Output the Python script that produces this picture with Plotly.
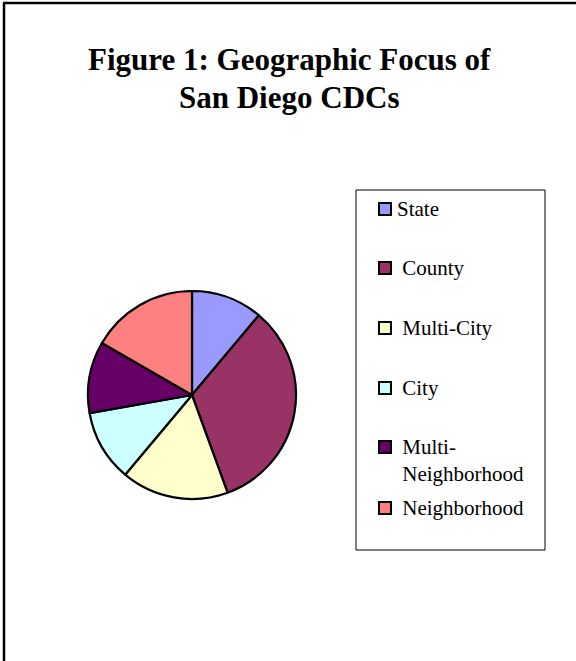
import plotly.graph_objects as go

W, H = 576, 661

title_lines = ["Figure 1: Geographic Focus of", "San Diego CDCs"]
labels = ["State", "County", "Multi-City", "City", "Multi-Neighborhood", "Neighborhood"]
legend_text = ["State", " County", " Multi-City", " City", " Multi-<br> Neighborhood", " Neighborhood"]
values = [2, 6, 3, 2, 2, 3]
colors = ["#9999FF", "#993366", "#FFFFCC", "#CCFFFF", "#660066", "#FF8080"]

def px(x):
    return x / W

def py(y):
    return 1 - y / H

fig = go.Figure()

cx, cy, r = 192, 395, 104
fig.add_trace(go.Pie(
    labels=labels, values=values, sort=False, direction="clockwise", rotation=0,
    marker=dict(colors=colors, line=dict(color="black", width=2.2)),
    textinfo="none", hoverinfo="label+value+percent", showlegend=False,
    domain=dict(x=[px(cx - r), px(cx + r)], y=[py(cy + r), py(cy - r)]),
))

shapes = [
    # outer frame (left and top edges)
    dict(type="line", xref="paper", yref="paper", x0=px(4), x1=px(4), y0=py(3), y1=py(H + 5),
         line=dict(color="black", width=2.5)),
    dict(type="line", xref="paper", yref="paper", x0=px(3), x1=px(W + 5), y0=py(3), y1=py(3),
         line=dict(color="black", width=2.5)),
    # legend box
    dict(type="rect", xref="paper", yref="paper", x0=px(356), x1=px(545), y0=py(190), y1=py(550),
         line=dict(color="black", width=1), fillcolor="white", layer="below"),
]

title_size = 31
annotations = []
for line, base in zip(title_lines, [70, 108]):
    annotations.append(dict(text="<b>" + line + "</b>", x=px(289), y=py(base - 0.35 * title_size),
                            xref="paper", yref="paper", showarrow=False,
                            xanchor="center", yanchor="middle",
                            font=dict(family="Liberation Serif", size=title_size, color="black")))

item_y = [209, 268, 328, 388, 460, 508]
sq = 12
for txt, col, yy in zip(legend_text, colors, item_y):
    two = "<br>" in txt
    y_sq = yy - 13 if two else yy
    shapes.append(dict(type="rect", xref="paper", yref="paper",
                       x0=px(379), x1=px(379 + sq), y0=py(y_sq + sq / 2), y1=py(y_sq - sq / 2),
                       fillcolor=col, line=dict(color="black", width=2)))
    annotations.append(dict(text=txt, x=px(395), y=py(yy), xref="paper", yref="paper",
                            showarrow=False, xanchor="left", yanchor="middle", align="left",
                            font=dict(family="Liberation Serif", size=21, color="black")))

fig.update_layout(
    width=W, height=H, margin=dict(l=0, r=0, t=0, b=0),
    paper_bgcolor="white", plot_bgcolor="white",
    shapes=shapes, annotations=annotations, showlegend=False,
)

fig.write_html("out.html", config={"displayModeBar": False},
               post_script="document.body.style.margin='0';document.body.style.overflow='hidden';")
